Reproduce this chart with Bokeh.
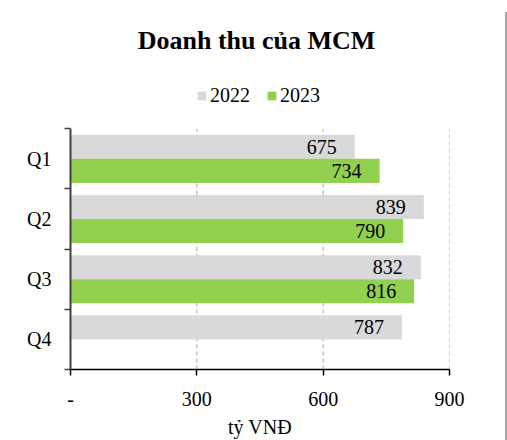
from bokeh.plotting import figure
from bokeh.layouts import row
from bokeh.models import (ColumnDataSource, FixedTicker, LabelSet, Label, Legend,
                          LegendItem, Range1d, Div)
from bokeh.embed import file_html
from bokeh.resources import INLINE

# ---- data ----
quarters = ["Q1", "Q2", "Q3", "Q4"]
rev_2022 = [675, 839, 832, 787]
rev_2023 = [734, 790, 816, None]
series_names = ["2022", "2023"]
series_colors = ["#D9D9D9", "#92D050"]
x_ticks = [0, 300, 600, 900]
x_tick_labels = ["-", "300", "600", "900"]
x_axis_title = "tỷ VNĐ"
chart_title = "Doanh thu của MCM"

FONT = "Liberation Serif"
n = len(quarters)
centers = [n - i - 0.5 for i in range(n)]
bar_h = 0.4
offsets = [0.2, -0.2]

# layout: the frame spans the header area too, so title/legend can live inside it
H, BOTTOM = 440, 63
DATA_PX = 246                      # pixel height of the category area
frame_px = H - BOTTOM
y_top = n * frame_px / DATA_PX

p = figure(width=500, height=H, x_range=Range1d(0, 900), y_range=Range1d(0, y_top),
           output_backend="svg", toolbar_location=None,
           min_border_left=70, min_border_right=51, min_border_bottom=BOTTOM,
           min_border_top=0)
p.outline_line_color = None

# dashed grid lines limited to the category area
grid_src = ColumnDataSource(dict(x=x_ticks[1:], y0=[0] * (len(x_ticks) - 1),
                                 y1=[n] * (len(x_ticks) - 1)))
p.segment(x0="x", y0="y0", x1="x", y1="y1", source=grid_src, line_color="#a6a6a6",
          line_dash="4 3", line_width=1, level="underlay")

items = []
for vals, name, color, off in zip([rev_2022, rev_2023], series_names, series_colors, offsets):
    ys = [c + off for c, v in zip(centers, vals) if v is not None]
    xs = [v for v in vals if v is not None]
    src = ColumnDataSource(dict(y=ys, right=xs, lab=[str(v) for v in xs]))
    r = p.hbar(y="y", left=0, right="right", height=bar_h, source=src,
               fill_color=color, line_color=None)
    items.append(LegendItem(label=name, renderers=[r]))
    labels = LabelSet(x="right", y="y", text="lab", source=src, x_offset=-18,
                      text_align="right", text_baseline="middle",
                      text_font=FONT, text_font_size="20px", text_color="#000000")
    p.add_layout(labels)

# title (screen pixels relative to the frame's bottom-left)
title = Label(x=186, y=329, x_units="screen", y_units="screen", text=chart_title,
              text_align="center", text_baseline="middle", text_font=FONT,
              text_font_size="26px", text_font_style="bold", text_color="#000000")
p.add_layout(title)

legend = Legend(items=items, orientation="horizontal", location=(126, 262),
                glyph_width=11, glyph_height=11, label_standoff=3, spacing=16,
                label_height=11, padding=0, margin=0,
                label_text_font=FONT, label_text_font_size="20px",
                label_text_color="#000000", border_line_color=None,
                background_fill_alpha=0)
p.add_layout(legend)

# x axis
p.xaxis.ticker = FixedTicker(ticks=x_ticks)
p.xaxis.major_label_overrides = {t: l for t, l in zip(x_ticks, x_tick_labels)}
p.xaxis.axis_label = x_axis_title
p.xaxis.axis_label_text_font = FONT
p.xaxis.axis_label_text_font_size = "20px"
p.xaxis.axis_label_text_font_style = "normal"
p.xaxis.axis_label_text_color = "#000000"
p.xaxis.axis_label_standoff = 7
p.xaxis.major_label_text_font = FONT
p.xaxis.major_label_text_font_size = "20px"
p.xaxis.major_label_text_color = "#000000"
p.xaxis.major_label_standoff = 16
p.xaxis.axis_line_color = "#000000"
p.xaxis.axis_line_width = 1.5
p.xaxis.major_tick_line_color = "#000000"
p.xaxis.major_tick_line_width = 1.5
p.xaxis.major_tick_out = 6
p.xaxis.major_tick_in = 0
p.xaxis.minor_tick_line_color = None

# y axis
p.yaxis.ticker = FixedTicker(ticks=centers, minor_ticks=list(range(n + 1)))
p.yaxis.bounds = (0, n)
p.yaxis.major_label_overrides = {c: q for c, q in zip(centers, quarters)}
p.yaxis.major_label_text_font = FONT
p.yaxis.major_label_text_font_size = "20px"
p.yaxis.major_label_text_color = "#000000"
p.yaxis.major_label_standoff = 13
p.yaxis.major_tick_line_color = None
p.yaxis.major_tick_out = 0
p.yaxis.axis_line_color = "#404040"
p.yaxis.axis_line_width = 2
p.yaxis.minor_tick_line_color = "#404040"
p.yaxis.minor_tick_line_width = 1.5
p.yaxis.minor_tick_out = 6
p.yaxis.minor_tick_in = 0

p.xgrid.visible = False
p.ygrid.visible = False

edge = Div(text="", width=2, height=440,
           styles={"background": "linear-gradient(to bottom, #ffffff 7px, #a6a6a6 7px)"})
layout = row(p, edge)

open("out.html", "w").write(file_html(layout, INLINE))
